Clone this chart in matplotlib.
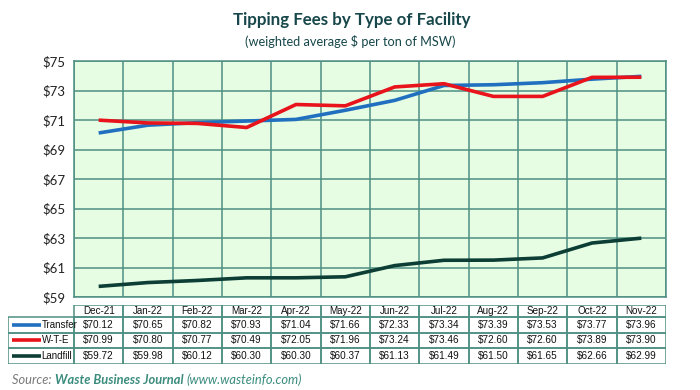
import numpy as np
import matplotlib.pyplot as plt
from matplotlib.patches import Rectangle

months = ['Dec-21', 'Jan-22', 'Feb-22', 'Mar-22', 'Apr-22', 'May-22',
          'Jun-22', 'Jul-22', 'Aug-22', 'Sep-22', 'Oct-22', 'Nov-22']
transfer = [70.12, 70.65, 70.82, 70.93, 71.04, 71.66, 72.33, 73.34, 73.39, 73.53, 73.77, 73.96]
wte = [70.99, 70.80, 70.77, 70.49, 72.05, 71.96, 73.24, 73.46, 72.60, 72.60, 73.89, 73.90]
landfill = [59.72, 59.98, 60.12, 60.30, 60.30, 60.37, 61.13, 61.49, 61.50, 61.65, 62.66, 62.99]
series_names = ['Transfer', 'W-T-E', 'Landfill']
y_ticks = [59, 61, 63, 65, 67, 69, 71, 73, 75]

colors = ['#2170c0', '#e8131b', '#0c3e35']
grid_c = '#4f8f83'
W, H = 700, 390

fig = plt.figure(figsize=(7, 3.9), dpi=100)

# main plot area (pixel box 74..666 x 61..297)
ax = fig.add_axes([74 / W, (H - 297) / H, 592 / W, 236 / H])
ax.set_facecolor('#e6fde4')
x = np.arange(len(months))
for vals, c in zip([transfer, wte, landfill], colors):
    ax.plot(x, vals, color=c, lw=2.6, solid_capstyle='butt', zorder=3)
ax.set_xlim(-0.5, len(months) - 0.5)
ax.set_ylim(59, 75)
ax.set_yticks(y_ticks)
ax.set_yticklabels([f'${v}' for v in y_ticks], fontsize=9.5, family='Lato', color='#222222')
ax.set_xticks(np.arange(-0.5, len(months), 1), minor=False)
ax.set_xticklabels([])
ax.tick_params(length=0, pad=6)
ax.grid(True, color=grid_c, lw=1.1)
for s in ax.spines.values():
    s.set_color(grid_c)
    s.set_linewidth(1.1)

# data table below the plot
tx0 = -0.5 - 66 / (592 / 12)
tab = fig.add_axes([8 / W, (H - 364) / H, 658 / W, 59 / H])
tab.set_xlim(tx0, len(months) - 0.5)
rows = [0, 0.75, 1.75, 2.75, 3.75]
tab.set_ylim(rows[-1], 0)
tab.axis('off')
bc = '#4f8f83'
# header row
for i, m in enumerate(months):
    tab.add_patch(Rectangle((i - 0.5, rows[0]), 1, rows[1] - rows[0], fill=False,
                            ec=bc, lw=1.1))
    tab.text(i, (rows[0] + rows[1]) / 2 + 0.02, m, ha='center', va='center',
             fontsize=7.1, family='Liberation Sans', color='#111111')
for r, (name, vals, c) in enumerate(zip(series_names, [transfer, wte, landfill], colors)):
    y0, y1 = rows[r + 1], rows[r + 2]
    ym = (y0 + y1) / 2
    tab.add_patch(Rectangle((tx0, y0), -0.5 - tx0, y1 - y0, fill=False, ec=bc, lw=1.1))
    tab.plot([tx0 + 0.09, tx0 + 0.67], [ym, ym], color=c, lw=2.6, solid_capstyle='butt')
    tab.text(tx0 + 0.68, ym, name, ha='left', va='center', fontsize=7,
             family='Liberation Sans', color='#111111')
    for i, v in enumerate(vals):
        tab.add_patch(Rectangle((i - 0.5, y0), 1, y1 - y0, fill=False, ec=bc, lw=1.1))
        tab.text(i, ym, f'${v:.2f}', ha='center', va='center', fontsize=7.2,
                 family='Liberation Sans', color='#111111')

# titles
fig.text(352 / W, 1 - 20 / H, 'Tipping Fees by Type of Facility', ha='center', va='center',
         fontsize=12.2, fontweight='bold', family='Lato', color='#17474a')
fig.text(350 / W, 1 - 42 / H, '(weighted average $ per ton of MSW)', ha='center', va='center',
         fontsize=9.2, family='Lato', color='#17474a')

# source line
fig.text(12 / W, 1 - 380 / H, 'Source: ', ha='left', va='center', fontsize=9.3,
         style='italic', family='Lato', color='#7a7a7a')
t = fig.text(55 / W, 1 - 380 / H, 'Waste Business Journal ', ha='left', va='center',
             fontsize=9.3, style='italic', fontweight='bold', family='Lato', color='#3b8c7e')
fig.canvas.draw()
bb = t.get_window_extent()
fig.text(bb.x1 / W, 1 - 380 / H, '(www.wasteinfo.com)', ha='left', va='center',
         fontsize=9.3, style='italic', family='Lato', color='#3b8c7e')

fig.savefig('out.png', dpi=100)
